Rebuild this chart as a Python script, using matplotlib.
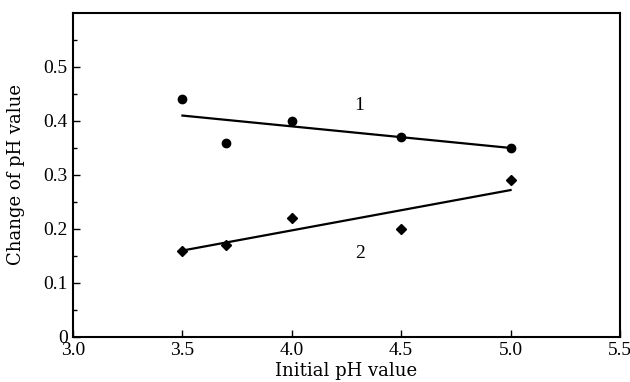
import numpy as np
import matplotlib
matplotlib.use("Agg")
import matplotlib.pyplot as plt
from matplotlib.ticker import FixedLocator

# measured points
ph_init = [3.5, 3.7, 4.0, 4.5, 5.0]
change_1 = [0.44, 0.36, 0.40, 0.37, 0.35]
change_2 = [0.16, 0.17, 0.22, 0.20, 0.29]

# fitted lines (end points)
fit_x = [3.5, 5.0]
fit_1 = [0.41, 0.35]
fit_2 = [0.16, 0.272]

x_ticks = [3.0, 3.5, 4.0, 4.5, 5.0, 5.5]
y_ticks = [0, 0.1, 0.2, 0.3, 0.4, 0.5]
y_tick_labels = ["0", "0.1", "0.2", "0.3", "0.4", "0.5"]

plt.rcParams["font.family"] = ["Liberation Serif", "DejaVu Serif"]

fig = plt.figure(figsize=(6.3, 3.82), dpi=100)
ax = fig.add_axes([0.116, 0.118, 0.868, 0.848])

ax.plot(fit_x, fit_1, color="black", lw=1.6)
ax.plot(fit_x, fit_2, color="black", lw=1.6)
ax.plot(ph_init, change_1, "o", color="black", ms=6)
ax.plot(ph_init, change_2, "D", color="black", ms=5.5)

ax.text(4.31, 0.428, "1", fontsize=14, ha="center", va="center")
ax.text(4.31, 0.155, "2", fontsize=14, ha="center", va="center")

ax.set_xlim(3.0, 5.5)
ax.set_ylim(0, 0.6)
ax.set_xticks(x_ticks)
ax.set_xticklabels([f"{v:.1f}" for v in x_ticks], fontsize=14)
ax.set_yticks(y_ticks)
ax.set_yticklabels(y_tick_labels, fontsize=14)
ax.yaxis.set_minor_locator(FixedLocator(np.arange(0.05, 0.6, 0.1)))

ax.tick_params(axis="x", which="major", direction="in", length=5, width=1,
               top=False, pad=4)
ax.tick_params(axis="y", which="major", direction="in", length=5, width=1,
               right=False, pad=4)
ax.tick_params(axis="y", which="minor", direction="in", length=3, width=1,
               right=False)

for side in ax.spines.values():
    side.set_linewidth(1.5)

ax.set_xlabel("Initial pH value", fontsize=13, family="DejaVu Serif", labelpad=2)
ax.set_ylabel("Change of pH value", fontsize=13, family="DejaVu Serif", labelpad=13)

fig.savefig("out.png", dpi=100)
